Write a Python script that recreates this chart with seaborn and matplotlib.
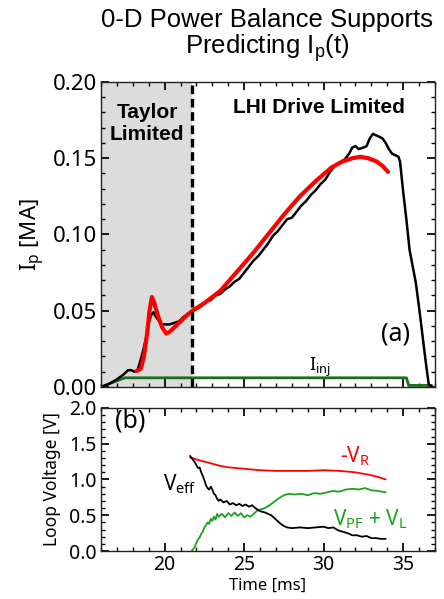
import numpy as np
import pandas as pd
import seaborn as sns
import matplotlib.pyplot as plt

# Measured plasma current (black), 0-D model (red), injector current (green)
ip_time = [16.0, 16.5, 17.0, 17.4, 17.7, 17.9, 18.1, 18.3, 18.5, 18.7, 18.85, 19.0,
           19.15, 19.3, 19.45, 19.6, 19.8, 20.0, 20.3, 20.6, 20.9, 21.2, 21.5, 21.75,
           22.0, 22.3, 22.6, 22.9, 23.2, 23.5, 23.8, 24.1, 24.4, 24.7, 25.0, 25.3,
           25.6, 25.9, 26.2, 26.5, 26.8, 27.1, 27.4, 27.7, 28.0, 28.3, 28.6, 28.9,
           29.2, 29.5, 29.8, 30.1, 30.4, 30.7, 31.0, 31.3, 31.6, 31.8, 32.0, 32.2,
           32.5, 32.7, 32.9, 33.1, 33.3, 33.5, 33.7, 33.9, 34.1, 34.3, 34.5, 34.7,
           34.8, 35.0, 35.2, 35.4, 35.6, 35.8, 36.0, 36.2, 36.4, 36.6, 36.8]
ip_meas = [0.000, 0.002, 0.005, 0.008, 0.011, 0.011, 0.010, 0.011, 0.018, 0.026, 0.033, 0.042,
           0.047, 0.049, 0.046, 0.044, 0.041, 0.041, 0.041, 0.042, 0.043, 0.046, 0.048, 0.050,
           0.051, 0.053, 0.056, 0.057, 0.060, 0.061, 0.064, 0.066, 0.069, 0.071, 0.075, 0.079,
           0.083, 0.086, 0.090, 0.094, 0.099, 0.102, 0.106, 0.110, 0.111, 0.115, 0.119, 0.122,
           0.126, 0.129, 0.133, 0.136, 0.141, 0.145, 0.147, 0.149, 0.153, 0.157, 0.158, 0.156,
           0.157, 0.158, 0.163, 0.166, 0.165, 0.164, 0.163, 0.160, 0.156, 0.153, 0.152, 0.151,
           0.148, 0.128, 0.110, 0.090, 0.079, 0.068, 0.052, 0.035, 0.018, 0.002, 0.000]

model_time = [18.25, 18.5, 18.7, 18.9, 19.05, 19.2, 19.35, 19.6, 19.85, 20.1, 20.3, 20.6,
              21.0, 21.4, 21.75, 22.5, 23.5, 24.5, 25.5, 26.5, 27.5, 28.5, 29.5, 30.5,
              31.2, 31.8, 32.3, 32.8, 33.3, 33.7, 34.05]
ip_model = [0.0105, 0.012, 0.020, 0.035, 0.050, 0.059, 0.055, 0.046, 0.039, 0.035, 0.036, 0.039,
            0.043, 0.047, 0.050, 0.055, 0.063, 0.075, 0.087, 0.100, 0.113, 0.125, 0.135, 0.144,
            0.148, 0.150, 0.151, 0.150, 0.148, 0.145, 0.141]

inj_time = [16.0, 16.5, 17.0, 17.5, 18.0, 22.0, 26.0, 30.0, 35.2, 35.35, 36.8]
i_inj = [0.000, 0.002, 0.004, 0.006, 0.006, 0.006, 0.006, 0.006, 0.006, 0.001, 0.001]

# Loop voltages
veff_time = [21.6, 21.7, 21.8, 21.9, 22.0, 22.1, 22.2, 22.3, 22.4, 22.5, 22.6, 22.7,
             22.8, 22.9, 23.0, 23.1, 23.2, 23.3, 23.4, 23.5, 23.7, 23.9, 24.1, 24.3,
             24.5, 24.7, 24.9, 25.1, 25.3, 25.5, 25.7, 25.9, 26.1, 26.3, 26.5, 26.7,
             26.9, 27.1, 27.3, 27.5, 27.7, 28.0, 28.5, 29.0, 29.5, 30.0, 30.3, 30.6,
             30.9, 31.2, 31.5, 31.8, 32.1, 32.4, 32.7, 33.0, 33.3, 33.6, 33.9]
v_eff = [1.33, 1.30, 1.27, 1.24, 1.20, 1.16, 1.17, 1.10, 1.05, 0.99, 0.92, 0.88,
         0.86, 0.90, 0.86, 0.80, 0.78, 0.73, 0.70, 0.72, 0.68, 0.70, 0.65, 0.67,
         0.64, 0.66, 0.63, 0.65, 0.62, 0.64, 0.60, 0.57, 0.55, 0.54, 0.52, 0.50,
         0.46, 0.42, 0.38, 0.35, 0.33, 0.32, 0.33, 0.32, 0.33, 0.34, 0.32, 0.33,
         0.29, 0.27, 0.25, 0.22, 0.22, 0.20, 0.21, 0.18, 0.18, 0.17, 0.17]

vpf_time = [21.7, 21.8, 21.9, 22.0, 22.1, 22.2, 22.3, 22.4, 22.5, 22.6, 22.7, 22.8,
            22.9, 23.0, 23.1, 23.2, 23.3, 23.4, 23.6, 23.8, 24.0, 24.2, 24.4, 24.6,
            24.8, 25.0, 25.2, 25.4, 25.6, 25.8, 26.0, 26.3, 26.6, 26.9, 27.2, 27.5,
            27.8, 28.2, 28.6, 29.0, 29.4, 29.8, 30.2, 30.6, 31.0, 31.4, 31.8, 32.2,
            32.6, 33.0, 33.4, 33.9]
v_pf_l = [0.00, 0.03, 0.06, 0.12, 0.16, 0.19, 0.24, 0.27, 0.33, 0.36, 0.40, 0.38,
          0.45, 0.42, 0.48, 0.44, 0.52, 0.48, 0.52, 0.47, 0.53, 0.49, 0.54, 0.49,
          0.53, 0.47, 0.50, 0.48, 0.52, 0.56, 0.58, 0.60, 0.64, 0.69, 0.74, 0.78,
          0.80, 0.79, 0.80, 0.78, 0.81, 0.80, 0.82, 0.84, 0.83, 0.86, 0.87, 0.86,
          0.88, 0.85, 0.84, 0.82]

vr_time = [21.6, 22.0, 22.5, 23.0, 23.5, 24.0, 24.5, 25.0, 25.5, 26.0, 27.0, 28.0,
           29.0, 30.0, 31.0, 31.5, 32.0, 32.5, 33.0, 33.5, 33.9]
minus_vr = [1.31, 1.28, 1.25, 1.22, 1.19, 1.17, 1.16, 1.15, 1.14, 1.13, 1.12, 1.12,
            1.12, 1.13, 1.12, 1.11, 1.10, 1.08, 1.06, 1.03, 1.00]

sns.set_theme(style="ticks")
plt.rcParams['font.family'] = ['Noto Sans', 'DejaVu Sans']
plt.rcParams['mathtext.fontset'] = 'custom'
plt.rcParams['mathtext.rm'] = 'Noto Sans'
plt.rcParams['axes.edgecolor'] = '#222222'
plt.rcParams['axes.linewidth'] = 1.0
for key in ['text.color', 'axes.labelcolor', 'xtick.color', 'ytick.color']:
    plt.rcParams[key] = 'black'

fig = plt.figure(figsize=(4.44, 5.99), dpi=100)
ax1 = fig.add_axes([0.2275, 0.354, 0.7522, 0.5091])
ax2 = fig.add_axes([0.2275, 0.0801, 0.7522, 0.2388])

title_font = ['Liberation Sans', 'DejaVu Sans']
fig.text(0.602, 0.987, "0-D Power Balance Supports\nPredicting I$_\\mathregular{p}$(t)",
         ha='center', va='top', fontsize=18.5, family=title_font, linespacing=1.0)

# ---- panel (a)
ax1.axvspan(16, 21.75, color='#dcdcdc', lw=0, zorder=0)
sns.lineplot(x=inj_time, y=i_inj, ax=ax1, color='#1c6e1c', lw=2.0, sort=False)
sns.lineplot(x=ip_time, y=ip_meas, ax=ax1, color='black', lw=1.8, sort=False)
sns.lineplot(x=model_time, y=ip_model, ax=ax1, color='#ff0000', lw=3.0, sort=False)
ax1.axvline(21.75, color='black', lw=2.4, ls=(0, (2.6, 1.4)))

ax1.set_xlim(16, 37)
ax1.set_ylim(0, 0.20)
ax1.set_yticks([0.0, 0.05, 0.10, 0.15, 0.20])
ax1.set_yticklabels(['0.00', '0.05', '0.10', '0.15', '0.20'])
ax1.set_xticks([20, 25, 30, 35])
ax1.set_xticks(np.arange(16, 38, 1), minor=True)
ax1.set_yticks(np.arange(0, 0.201, 0.01), minor=True)
ax1.tick_params(which='both', direction='in', top=True, right=True, labelbottom=False)
ax1.tick_params(which='major', length=6, labelsize=16, pad=3)
ax1.tick_params(which='minor', length=3)
ax1.set_ylabel("I$_\\mathregular{p}$ [MA]", fontsize=16, labelpad=4)

bold_font = ['Liberation Sans', 'DejaVu Sans']
ax1.text(18.9, 0.186, "Taylor\nLimited", ha='center', va='top', fontsize=15,
         fontweight='bold', family=bold_font, linespacing=1.15)
ax1.text(29.7, 0.183, "LHI Drive Limited", ha='center', va='center', fontsize=15,
         fontweight='bold', family=bold_font)
ax1.text(33.6, 0.035, "(a)", ha='left', va='center', fontsize=18)
ax1.text(29.75, 0.013, "I$_\\mathregular{inj}$", ha='center', va='center', fontsize=13)

# ---- panel (b)
sns.lineplot(x=vr_time, y=minus_vr, ax=ax2, color='#ff0000', lw=1.3, sort=False)
sns.lineplot(x=vpf_time, y=v_pf_l, ax=ax2, color='#1fa01f', lw=1.3, sort=False)
sns.lineplot(x=veff_time, y=v_eff, ax=ax2, color='black', lw=1.3, sort=False)

ax2.set_xlim(16, 37)
ax2.set_ylim(0, 2.0)
ax2.set_xticks([20, 25, 30, 35])
ax2.set_xticks(np.arange(16, 38, 1), minor=True)
ax2.set_yticks([0.0, 0.5, 1.0, 1.5, 2.0])
ax2.set_yticklabels(['0.0', '0.5', '1.0', '1.5', '2.0'])
ax2.set_yticks(np.arange(0, 2.01, 0.1), minor=True)
ax2.tick_params(which='both', direction='in', top=True, right=True)
ax2.tick_params(which='major', length=6, labelsize=14, pad=3)
ax2.tick_params(which='minor', length=3)
ax2.set_xlabel("Time [ms]", fontsize=12, labelpad=2)
ax2.set_ylabel("Loop Voltage [V]", fontsize=12.5, labelpad=6)

ax2.text(16.9, 1.82, "(b)", ha='left', va='center', fontsize=18)
ax2.text(19.9, 0.93, "V$_\\mathregular{eff}$", ha='left', va='center', fontsize=15)
ax2.text(32.0, 1.33, "-V$_\\mathregular{R}$", ha='center', va='center', fontsize=15, color='#ff0000')
ax2.text(32.9, 0.45, "V$_\\mathregular{PF}$ + V$_\\mathregular{L}$", ha='center', va='center',
         fontsize=15, color='#1fa01f')

fig.savefig("out.png", dpi=100)
